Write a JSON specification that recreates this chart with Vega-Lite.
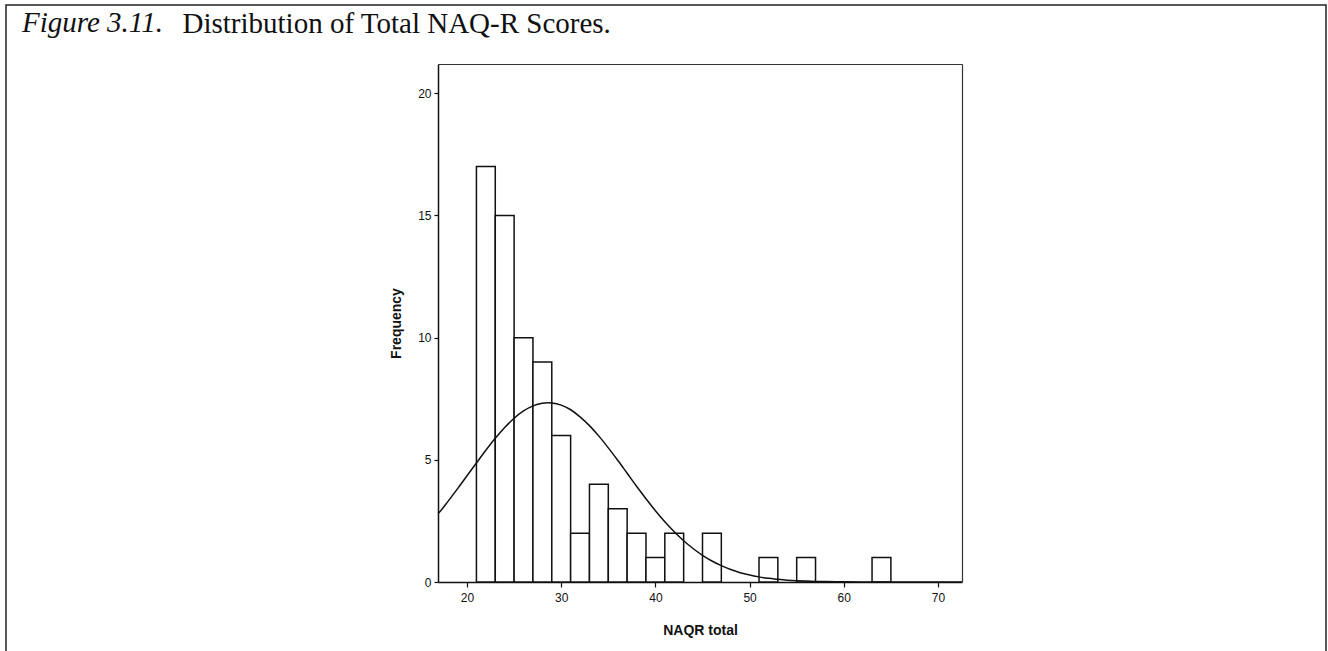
{
  "$schema": "https://vega.github.io/schema/vega-lite/v6.json",
  "width": 1320,
  "height": 700,
  "autosize": {"type": "none"},
  "padding": {"left": 6, "top": 5, "right": 2, "bottom": 0},
  "background": "white",
  "config": {
    "view": {"stroke": "#222222", "strokeWidth": 1.5},
    "font": "Liberation Sans"
  },
  "title": {
    "text": "Figure 3.11.",
    "font": "Liberation Serif",
    "fontStyle": "italic",
    "fontWeight": "normal",
    "fontSize": 29,
    "color": "#111111",
    "anchor": "start",
    "frame": "group",
    "orient": "top",
    "baseline": "alphabetic",
    "offset": 0,
    "dx": 16,
    "dy": 56
  },
  "datasets": {
    "bins": [
      {"start": 21, "end": 23, "count": 17},
      {"start": 23, "end": 25, "count": 15},
      {"start": 25, "end": 27, "count": 10},
      {"start": 27, "end": 29, "count": 9},
      {"start": 29, "end": 31, "count": 6},
      {"start": 31, "end": 33, "count": 2},
      {"start": 33, "end": 35, "count": 4},
      {"start": 35, "end": 37, "count": 3},
      {"start": 37, "end": 39, "count": 2},
      {"start": 39, "end": 41, "count": 1},
      {"start": 41, "end": 43, "count": 2},
      {"start": 45, "end": 47, "count": 2},
      {"start": 51, "end": 53, "count": 1},
      {"start": 55, "end": 57, "count": 1},
      {"start": 63, "end": 65, "count": 1}
    ],
    "curve": [
      {"x": 16.92, "y": 2.80},
      {"x": 17, "y": 2.83},
      {"x": 18, "y": 3.31},
      {"x": 19, "y": 3.82},
      {"x": 20, "y": 4.35},
      {"x": 21, "y": 4.87},
      {"x": 22, "y": 5.39},
      {"x": 23, "y": 5.88},
      {"x": 24, "y": 6.32},
      {"x": 25, "y": 6.70},
      {"x": 26, "y": 7.00},
      {"x": 27, "y": 7.21},
      {"x": 28, "y": 7.32},
      {"x": 28.6, "y": 7.34},
      {"x": 29, "y": 7.33},
      {"x": 30, "y": 7.24},
      {"x": 31, "y": 7.05},
      {"x": 32, "y": 6.76},
      {"x": 33, "y": 6.40},
      {"x": 34, "y": 5.97},
      {"x": 35, "y": 5.49},
      {"x": 36, "y": 4.98},
      {"x": 37, "y": 4.45},
      {"x": 38, "y": 3.92},
      {"x": 39, "y": 3.41},
      {"x": 40, "y": 2.92},
      {"x": 41, "y": 2.47},
      {"x": 42, "y": 2.06},
      {"x": 43, "y": 1.69},
      {"x": 44, "y": 1.37},
      {"x": 45, "y": 1.09},
      {"x": 46, "y": 0.86},
      {"x": 47, "y": 0.67},
      {"x": 48, "y": 0.51},
      {"x": 49, "y": 0.38},
      {"x": 50, "y": 0.29},
      {"x": 51, "y": 0.21},
      {"x": 52, "y": 0.15},
      {"x": 53, "y": 0.11},
      {"x": 54, "y": 0.076},
      {"x": 55, "y": 0.053},
      {"x": 56, "y": 0.036},
      {"x": 57, "y": 0.024},
      {"x": 58, "y": 0.016},
      {"x": 60, "y": 0.007},
      {"x": 62, "y": 0.003},
      {"x": 65, "y": 0.0005},
      {"x": 70, "y": 0},
      {"x": 72.55, "y": 0}
    ]
  },
  "layer": [
    {
      "data": {"name": "bins"},
      "mark": {"type": "rect", "fill": "white", "stroke": "#111111", "strokeWidth": 1.5},
      "encoding": {
        "x": {
          "field": "start",
          "type": "quantitative",
          "scale": {"domain": [16.92, 72.55], "range": [432, 956], "nice": false, "zero": false},
          "axis": {
            "orient": "bottom",
            "offset": -123,
            "values": [20, 30, 40, 50, 60, 70],
            "title": "NAQR total",
            "titleFont": "Liberation Sans",
            "titleFontSize": 14,
            "titleFontWeight": "bold",
            "titleColor": "#111111",
            "titlePadding": 20,
            "labelFontSize": 12,
            "labelColor": "#111111",
            "labelPadding": 5,
            "tickSize": 5,
            "tickColor": "#111111",
            "tickWidth": 1.2,
            "domainColor": "#111111",
            "domainWidth": 1.5,
            "grid": false
          }
        },
        "x2": {"field": "end"},
        "y": {
          "field": "count",
          "type": "quantitative",
          "scale": {"domain": [0, 21.2], "range": [577, 59], "nice": false},
          "axis": {
            "orient": "left",
            "offset": -432,
            "values": [0, 5, 10, 15, 20],
            "title": "Frequency",
            "titleFont": "Liberation Sans",
            "titleFontSize": 14,
            "titleFontWeight": "bold",
            "titleColor": "#111111",
            "titlePadding": 14,
            "labelFontSize": 12,
            "labelColor": "#111111",
            "labelPadding": 3,
            "tickSize": 4,
            "tickColor": "#111111",
            "tickWidth": 1.2,
            "domainColor": "#111111",
            "domainWidth": 1.5,
            "grid": false
          }
        },
        "y2": {"datum": 0}
      }
    },
    {
      "data": {"name": "curve"},
      "mark": {"type": "line", "color": "#111111", "strokeWidth": 1.5, "interpolate": "monotone"},
      "encoding": {
        "x": {
          "field": "x",
          "type": "quantitative",
          "axis": {
            "orient": "top",
            "offset": -59,
            "labels": false,
            "ticks": false,
            "grid": false,
            "domainColor": "#333333",
            "domainWidth": 1.2,
            "title": "Distribution of Total NAQ-R Scores.",
            "titleFont": "Liberation Serif",
            "titleFontSize": 29,
            "titleFontWeight": "normal",
            "titleColor": "#111111",
            "titleAlign": "left",
            "titleBaseline": "alphabetic",
            "titleAngle": 0,
            "titleX": 176,
            "titleY": -32
          }
        },
        "y": {
          "field": "y",
          "type": "quantitative",
          "axis": {
            "orient": "right",
            "offset": -364,
            "labels": false,
            "ticks": false,
            "grid": false,
            "domainColor": "#333333",
            "domainWidth": 1.2,
            "title": null
          }
        }
      }
    }
  ],
  "resolve": {"axis": {"x": "independent", "y": "independent"}}
}
